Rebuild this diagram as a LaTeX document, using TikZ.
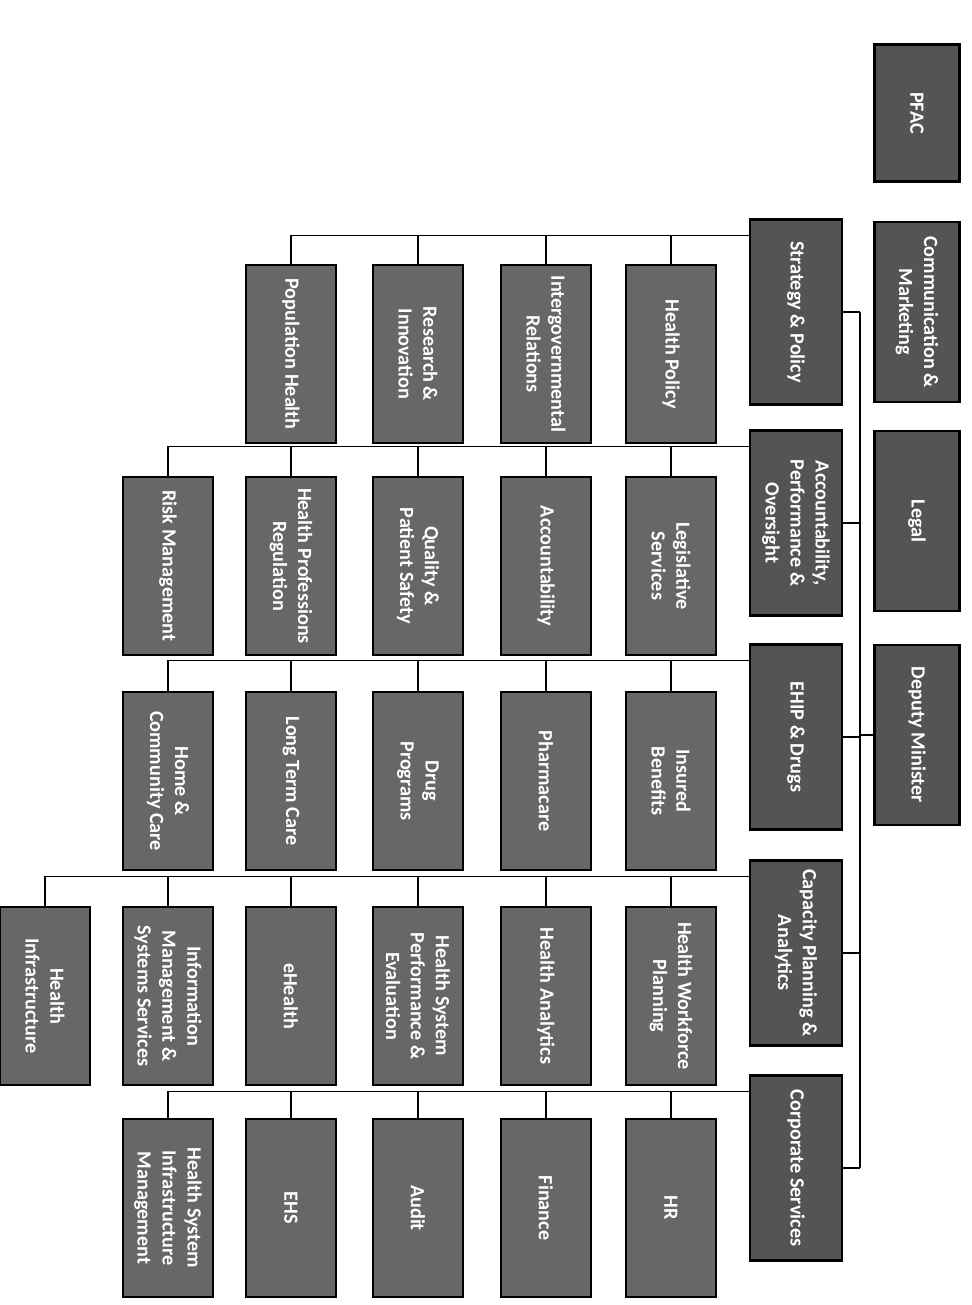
\documentclass[tikz,border=0pt]{standalone}
\usepackage{fontspec}
\setmainfont{Carlito}
\usepackage{tikz}
\definecolor{OfficeGrey}{HTML}{545454}
\definecolor{UnitGrey}{HTML}{676767}

\begin{document}
\begin{tikzpicture}[x=0.02cm,y=-0.02cm,
    every node/.style={font=\bfseries\fontsize{11.5}{14.2}\selectfont, text=white, align=center, rotate=-90},
    office/.style={draw=black, line width=1.2pt, fill=OfficeGrey, minimum width=3.6cm, minimum height=1.7cm, inner sep=2pt},
    division/.style={office, minimum width=3.7cm, minimum height=1.84cm},
    unit/.style={office, fill=UnitGrey, minimum width=3.55cm, minimum height=1.8cm},
    link/.style={draw=black, line width=0.9pt}]
  \useasboundingbox (0,0) rectangle (972,1305);

  % executive offices
  \node[office, minimum width=2.74cm] (pfac) at (917,113) {PFAC};
  \node[office] (comm) at (917,312) {Communication \&\\Marketing};
  \node[office] (legal) at (917,521) {Legal};
  \node[office] (dm) at (917,735) {Deputy Minister};

  % divisions
  \node[division] (sp) at (796,312) {Strategy \& Policy};
  \node[division] (apo) at (796,523) {Accountability,\\Performance \&\\Oversight};
  \node[division] (ehip) at (796,737) {EHIP \& Drugs};
  \node[division] (cpa) at (796,953) {Capacity Planning \&\\Analytics};
  \node[division] (cs) at (796,1168) {Corporate Services};

  \coordinate (trunk) at (860,312);
  \foreach \d in {sp,apo,ehip,cpa,cs}
    \draw[link] (\d.north) -- (\d.north -| trunk);
  \draw[link, line width=1.1pt] (sp.north -| trunk) -- (cs.north -| trunk);
  \draw[link] (dm.south) -- (dm.south -| trunk);

  % units under each division
  \foreach \i/\x/\txt in {1/671/{Health Policy}, 2/546/{Intergovernmental\\Relations},
      3/418/{Research \&\\Innovation}, 4/291/{Population Health}}{
    \node[unit] (sp\i) at (\x,354) {\txt};
    \draw[link] ([yshift=-3.4mm]sp.south west) -| (sp\i.west);
  }
  \foreach \i/\x/\txt in {1/671/{Legislative\\Services}, 2/546/{Accountability},
      3/418/{Quality \&\\Patient Safety}, 4/291/{Health Professions\\Regulation}, 5/168/{Risk Management}}{
    \node[unit] (apo\i) at (\x,566) {\txt};
    \draw[link] ([yshift=-3.4mm]apo.south west) -| (apo\i.west);
  }
  \foreach \i/\x/\txt in {1/671/{Insured\\Benefits}, 2/546/{Pharmacare},
      3/418/{Drug\\Programs}, 4/291/{Long Term Care}, 5/168/{Home \&\\Community Care}}{
    \node[unit] (ehip\i) at (\x,781) {\txt};
    \draw[link] ([yshift=-3.4mm]ehip.south west) -| (ehip\i.west);
  }
  \foreach \i/\x/\txt in {1/671/{Health Workforce\\Planning}, 2/546/{Health Analytics},
      3/418/{Health System\\Performance \&\\Evaluation}, 4/291/{eHealth},
      5/168/{Information\\Management \&\\Systems Services}, 6/45/{Health\\Infrastructure}}{
    \node[unit] (cpa\i) at (\x,996) {\txt};
    \draw[link] ([yshift=-3.4mm]cpa.south west) -| (cpa\i.west);
  }
  \foreach \i/\x/\txt in {1/671/{HR}, 2/546/{Finance},
      3/418/{Audit}, 4/291/{EHS}, 5/168/{Health System\\Infrastructure\\Management}}{
    \node[unit] (cs\i) at (\x,1208) {\txt};
    \draw[link] ([yshift=-3.4mm]cs.south west) -| (cs\i.west);
  }
\end{tikzpicture}
\end{document}
